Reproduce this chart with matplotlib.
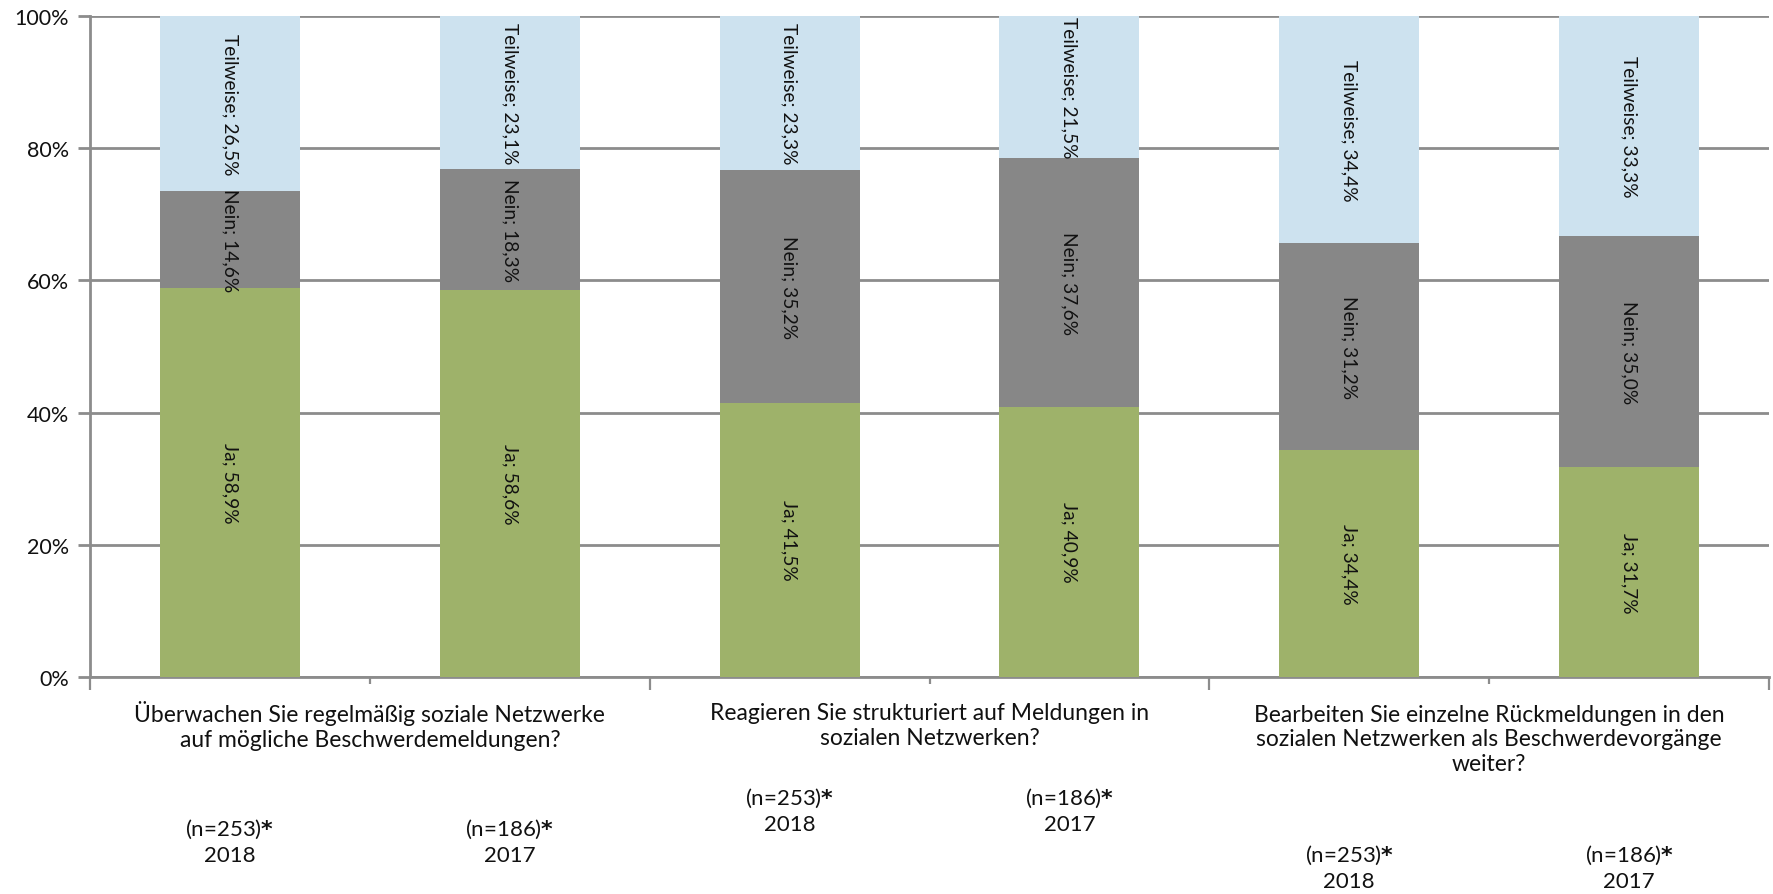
import matplotlib
matplotlib.use("Agg")
import matplotlib.pyplot as plt
from matplotlib.transforms import blended_transform_factory

plt.rcParams['font.family'] = ['Lato', 'DejaVu Sans']

# Survey answers per bar (2018 / 2017 for each question), in percent
years = ["2018", "2017", "2018", "2017", "2018", "2017"]
sample_sizes = ["(n=253)", "(n=186)", "(n=253)", "(n=186)", "(n=253)", "(n=186)"]
questions = [
    "Überwachen Sie regelmäßig soziale Netzwerke\nauf mögliche Beschwerdemeldungen?",
    "Reagieren Sie strukturiert auf Meldungen in\nsozialen Netzwerken?",
    "Bearbeiten Sie einzelne Rückmeldungen in den\nsozialen Netzwerken als Beschwerdevorgänge\nweiter?",
]
ja = [58.9, 58.6, 41.5, 40.9, 34.4, 31.7]
nein = [14.6, 18.3, 35.2, 37.6, 31.2, 35.0]
teilweise = [26.5, 23.1, 23.3, 21.5, 34.4, 33.3]

series = [("Ja", ja, "#9eb26a"), ("Nein", nein, "#878787"), ("Teilweise", teilweise, "#cde2ef")]
grid_color = "#8c8c8c"
text_color = "#111111"

W, H = 1773, 895
fig = plt.figure(figsize=(W / 100, H / 100), dpi=100)
ax = fig.add_axes([90 / W, 1 - 678 / H, (1769 - 90) / W, (678 - 17) / H])

x = list(range(len(ja)))
bottom = [0.0] * len(x)
for name, vals, color in series:
    ax.bar(x, vals, width=0.5, bottom=bottom, color=color, zorder=3, linewidth=0)
    for xi, b, v in zip(x, bottom, vals):
        label = f"{name}; {v:.1f}%".replace(".", ",")
        ax.text(xi, b + v / 2, label, rotation=-90, ha="center", va="center",
                fontsize=13.8, color=text_color, zorder=4, rotation_mode="anchor")
    bottom = [b + v for b, v in zip(bottom, vals)]

ax.set_xlim(-0.5, len(x) - 0.5)
ax.set_ylim(0, 100)
ax.set_yticks([0, 20, 40, 60, 80, 100])
ax.set_yticklabels([f"{t}%" for t in [0, 20, 40, 60, 80, 100]], fontsize=15.5)
ax.yaxis.grid(True, color=grid_color, linewidth=2, zorder=0)
ax.tick_params(axis="y", length=9, width=2, color=grid_color, pad=6, labelcolor=text_color)

# group boundaries get longer ticks, bar separators shorter ones
ax.set_xticks([-0.5, 1.5, 3.5, 5.5])
ax.set_xticklabels([])
ax.set_xticks([0.5, 2.5, 4.5], minor=True)
ax.tick_params(axis="x", which="major", length=9, width=1.6, color=grid_color)
ax.tick_params(axis="x", which="minor", length=5, width=1.6, color=grid_color)

for side in ["top", "right"]:
    ax.spines[side].set_visible(False)
for side in ["left", "bottom"]:
    ax.spines[side].set_color(grid_color)
    ax.spines[side].set_linewidth(2)

tr = blended_transform_factory(ax.transData, fig.transFigure)

# question labels centred under each pair of bars
q_centers_px = [726, 726, 740]
for gi, (q, ypx) in enumerate(zip(questions, q_centers_px)):
    ax.text(2 * gi + 0.5, 1 - ypx / H, q, transform=tr, ha="center", va="center",
            fontsize=16.5, color=text_color, linespacing=1.2)

# sample size (with bold asterisk) and year under each bar
n_centers_px = [829, 829, 798, 798, 855, 855]
for xi, (n, yr, ypx) in enumerate(zip(sample_sizes, years, n_centers_px)):
    yf = 1 - ypx / H
    ax.text(xi, yf, n + r"$\mathbf{*}$", transform=tr, ha="center", va="center",
            fontsize=16, color=text_color)
    ax.text(xi, yf - 27 / H, yr, transform=tr, ha="center", va="center",
            fontsize=16, color=text_color)

fig.savefig("out.png", dpi=100, facecolor="white")
